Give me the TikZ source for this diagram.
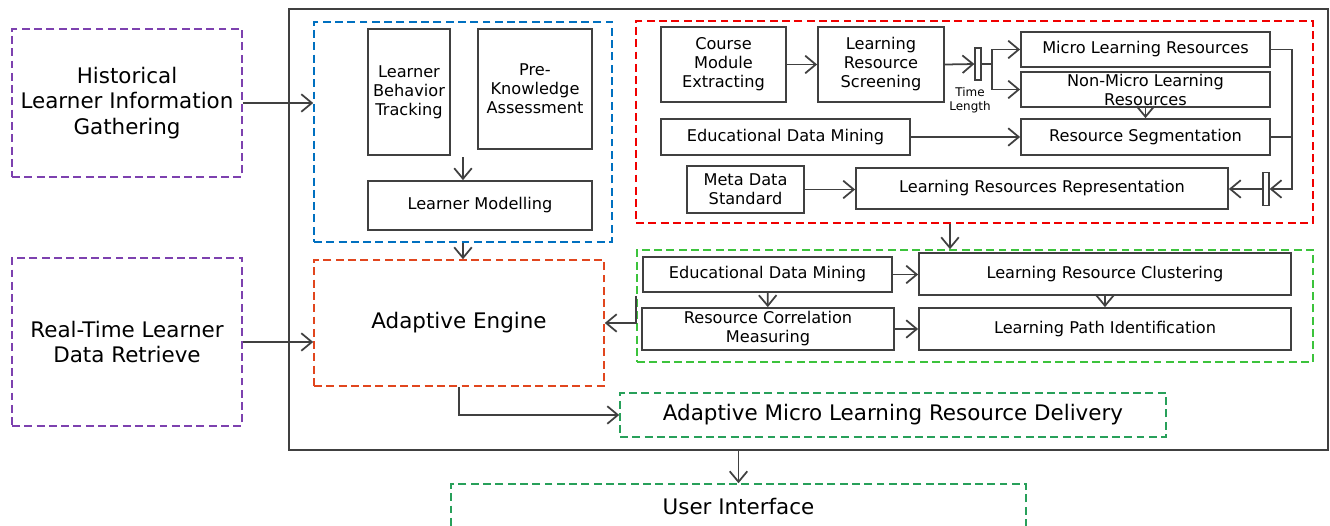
\documentclass[tikz,border=0pt]{standalone}
\usepackage{fontspec}
\setmainfont{DejaVu Sans}
\usetikzlibrary{arrows.meta,positioning,calc}

\definecolor{linegray}{RGB}{64,64,64}
\definecolor{histpurple}{RGB}{125,65,175}
\definecolor{modelblue}{RGB}{0,112,192}
\definecolor{engineorange}{RGB}{225,70,30}
\definecolor{screenred}{RGB}{240,0,0}
\definecolor{analysisgreen}{RGB}{60,195,60}
\definecolor{delivgreen}{RGB}{40,160,90}

\newcommand{\bigtxt}{\fontsize{12.2}{14.6}\selectfont}
\newcommand{\boxtxt}{\fontsize{9.2}{10.8}\selectfont}
\newcommand{\tinytxt}{\fontsize{6.8}{8}\selectfont}

\begin{document}
\begin{tikzpicture}[x=0.02cm,y=-0.02cm,
    >={Straight Barb[length=6pt,width=10pt]},
    sz/.style 2 args={minimum width=#1*0.02cm,minimum height=#2*0.02cm},
    blk/.style={draw=linegray,line width=1pt,inner sep=0pt,align=center,font=\boxtxt},
    grp/.style={draw=#1,dash pattern=on 4.5pt off 2.5pt,line width=0.9pt,inner sep=0pt,align=center,font=\bigtxt},
    tbar/.style={draw=linegray,fill=white,line width=0.7pt,inner sep=0pt},
    conn/.style={->,draw=linegray,line width=1pt}]
  \useasboundingbox (0,0) rectangle (1330,525);

  % outer frame and the two inputs
  \node[draw=linegray,line width=1.6pt,sz={1039}{441}] (outer) at (808.5,229.5) {};
  \node[grp=histpurple,sz={230}{148}] (hist) at (127,103) {Historical\\Learner Information\\Gathering};
  \node[grp=histpurple,sz={230}{168}] (rt) at (127,342) {Real-Time Learner\\Data Retrieve};

  % learner model
  \node[grp=modelblue,sz={298}{220}] (blue) at (463,132) {};
  \node[blk,sz={82}{126}] (behav) at (409,92) {Learner\\Behavior\\Tracking};
  \node[blk,sz={114}{120}] (preknow) at (535,89) {Pre-\\Knowledge\\Assessment};
  \node[blk,sz={224}{49}] (model) at (480,205.5) {Learner Modelling};
  \coordinate (lmin) at (463,157);

  \node[grp=engineorange,sz={290}{126}] (ae) at (459,323) {Adaptive Engine};

  % resource screening
  \node[grp=screenred,sz={677}{202}] (red) at (974.5,122) {};
  \node[blk,sz={125}{75}] (course) at (723.5,64.5) {Course\\Module\\Extracting};
  \node[blk,sz={126}{75}] (screen) at (881,64.5) {Learning\\Resource\\Screening};
  \node[tbar,sz={6}{32}] (lbar) at (978,64) {};
  \node[font=\tinytxt,align=center] (tlen) at (970,100) {Time\\Length};
  \node[blk,sz={249}{35}] (micro) at (1145.5,49.5) {Micro Learning Resources};
  \node[blk,sz={249}{35}] (nonmicro) at (1145.5,89.5) {Non-Micro Learning\\Resources};
  \node[blk,sz={249}{36}] (edmr) at (785.5,137) {Educational Data Mining};
  \node[blk,sz={249}{36}] (seg) at (1145.5,137) {Resource Segmentation};
  \node[blk,sz={117}{47}] (meta) at (745.5,189.5) {Meta Data\\Standard};
  \node[blk,sz={372}{41}] (repr) at (1042,188.5) {Learning Resources Representation};
  \node[tbar,sz={6}{33}] (rbar) at (1266,189) {};
  \coordinate (rgx) at (950,0);

  % resource analysis
  \node[grp=analysisgreen,sz={676}{112}] (green) at (975,306) {};
  \node[blk,sz={249}{35}] (edmg) at (767.5,274.5) {Educational Data Mining};
  \node[blk,sz={372}{42}] (clus) at (1105,274) {Learning Resource Clustering};
  \node[blk,sz={252}{42}] (corr) at (768,329) {Resource Correlation\\Measuring};
  \node[blk,sz={372}{42}] (path) at (1105,329) {Learning Path Identification};

  % delivery and interface
  \node[grp=delivgreen,sz={546}{44}] (deliv) at (893,415) {Adaptive Micro Learning Resource Delivery};
  \node[grp=delivgreen,sz={575}{46}] (ui) at (738.5,507) {User Interface};

  % connectors
  \draw[conn] (hist.east) -- (hist.east -| blue.west);
  \draw[conn] (rt.east) -- (rt.east -| ae.west);
  \draw[conn] (lmin) -- (lmin |- model.north);
  \draw[conn] (blue.south) -- (blue.south |- ae.north);
  \draw[conn] (course) -- (screen);
  \draw[conn] (screen.east) -- (lbar.west);
  \draw[conn] (lbar.east) -- ++(10,0) coordinate (tsplit) |- (micro.west);
  \draw[conn] (tsplit) |- (nonmicro.west);
  \draw[conn] (nonmicro) -- (seg);
  \draw[conn] (edmr) -- (seg);
  \draw[conn] (meta) -- (meta -| repr.west);
  \draw[conn] (micro.east) -- ++(21,0) coordinate (mdown) |- (rbar.east);
  \draw[linegray,line width=1pt] (seg.east) -- (seg.east -| mdown);
  \draw[conn] (rbar.west) -- (rbar.west -| repr.east);
  \draw[conn] (red.south -| rgx) -- (green.north -| rgx);
  \draw[conn] (edmg.east) -- (edmg.east -| clus.west);
  \draw[conn] (edmg) -- (corr);
  \draw[conn] (clus) -- (path);
  \draw[conn] (corr.east) -- (corr.east -| path.west);
  \draw[conn] (green.west |- clus.south) |- (ae.east);
  \draw[conn] (ae.south) |- (deliv.west);
  \draw[conn] (ui.north |- outer.south) -- (ui.north);
\end{tikzpicture}
\end{document}
